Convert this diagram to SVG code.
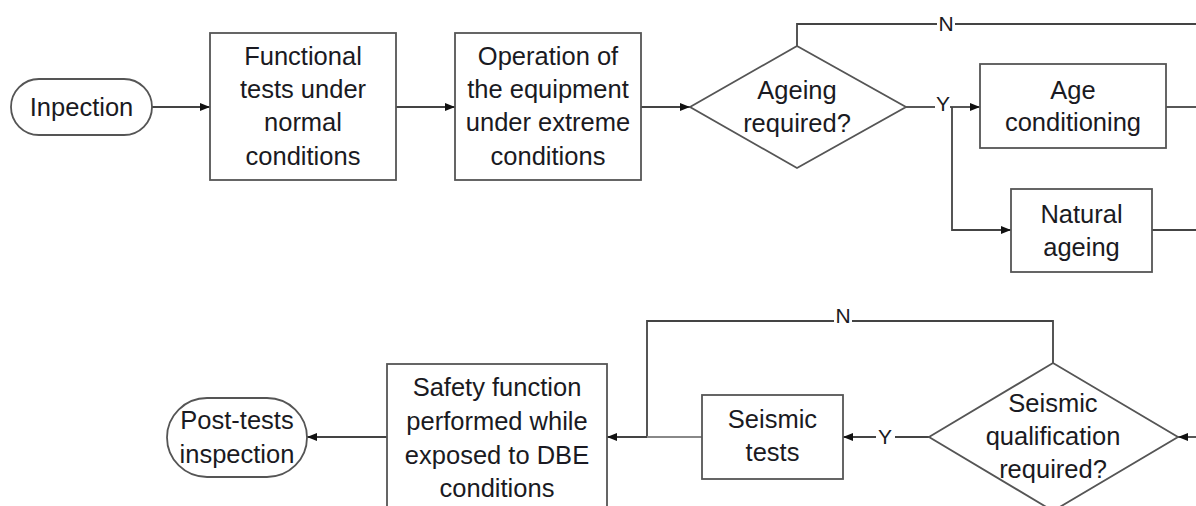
<svg xmlns="http://www.w3.org/2000/svg" width="1196" height="506" viewBox="0 0 1196 506">
<defs>
<marker id="ah" viewBox="0 0 10 10" refX="10" refY="5" markerWidth="10" markerHeight="10" markerUnits="userSpaceOnUse" orient="auto">
<path d="M0,1 L10,5 L0,9 Z" fill="#111"/>
</marker>
<style>
.shape{fill:#fff;stroke:#555;stroke-width:1.8}
.ln{fill:none;stroke:#444;stroke-width:1.8}
.lnl{fill:none;stroke:#888;stroke-width:1.8}
text{font-family:"Liberation Sans",Arial,sans-serif;font-size:25.5px;fill:#1a1a22;text-anchor:middle}
.lbl{font-size:21px}
</style>
</defs>
<rect width="1196" height="506" fill="#fff"/>
<g id="connectors">
<line class="ln" x1="152" y1="107" x2="210" y2="107" marker-end="url(#ah)"/>
<line class="ln" x1="396" y1="107" x2="455" y2="107" marker-end="url(#ah)"/>
<line class="ln" x1="641" y1="107" x2="690" y2="107" marker-end="url(#ah)"/>
<polyline class="ln" points="797,46 797,24 937,24"/>
<line class="ln" x1="955" y1="24" x2="1196" y2="24"/>
<line class="ln" x1="906" y1="107" x2="935" y2="107"/>
<polyline class="ln" points="950,107 952,107 980,107" marker-end="url(#ah)"/>
<polyline class="ln" points="952,107 952,230 1011,230" marker-end="url(#ah)"/>
<line class="ln" x1="1166" y1="107" x2="1196" y2="107"/>
<line class="ln" x1="1152" y1="230" x2="1196" y2="230"/>
<line class="ln" x1="1196" y1="437" x2="1178" y2="437" marker-end="url(#ah)"/>
<line class="ln" x1="929" y1="437" x2="895" y2="437"/>
<line class="ln" x1="876" y1="437" x2="843" y2="437" marker-end="url(#ah)"/>
<polyline class="ln" points="1053,363 1053,321 852,321"/>
<polyline class="ln" points="834,321 647,321 647,437"/>
<line class="lnl" x1="702" y1="437" x2="647" y2="437"/>
<line class="ln" x1="647" y1="437" x2="607" y2="437" marker-end="url(#ah)"/>
<line class="ln" x1="387" y1="437" x2="307" y2="437" marker-end="url(#ah)"/>
<text class="lbl" x="946" y="31">N</text>
<text class="lbl" x="943" y="111">Y</text>
<text class="lbl" x="843" y="323">N</text>
<text class="lbl" x="885" y="444">Y</text>
</g>
<g id="n-inspection">
<rect class="shape" x="11" y="79" width="141" height="56" rx="28" ry="28"/>
<text x="81.5" y="116">Inpection</text>
</g>
<g id="n-functional">
<rect class="shape" x="210" y="33" width="186" height="147"/>
<text x="303" y="65">Functional</text>
<text x="303" y="98">tests under</text>
<text x="303" y="131">normal</text>
<text x="303" y="165">conditions</text>
</g>
<g id="n-operation">
<rect class="shape" x="455" y="33" width="186" height="147"/>
<text x="548" y="65">Operation of</text>
<text x="548" y="98">the equipment</text>
<text x="548" y="131">under extreme</text>
<text x="548" y="165">conditions</text>
</g>
<g id="n-ageing">
<polygon class="shape" points="690,107 797,46 906,107 797,168"/>
<text x="797" y="99">Ageing</text>
<text x="797" y="132">required?</text>
</g>
<g id="n-age-cond">
<rect class="shape" x="980" y="64" width="186" height="84"/>
<text x="1073" y="99">Age</text>
<text x="1073" y="131">conditioning</text>
</g>
<g id="n-natural">
<rect class="shape" x="1011" y="189" width="141" height="83"/>
<text x="1081.5" y="223">Natural</text>
<text x="1081.5" y="256">ageing</text>
</g>
<g id="n-seismic-q">
<polygon class="shape" points="929,437 1053,363 1178,437 1053,511"/>
<text x="1053" y="412">Seismic</text>
<text x="1053" y="445">qualification</text>
<text x="1053" y="478">required?</text>
</g>
<g id="n-seismic-tests">
<rect class="shape" x="702" y="395" width="141" height="84"/>
<text x="772.5" y="428">Seismic</text>
<text x="772.5" y="461">tests</text>
</g>
<g id="n-safety">
<rect class="shape" x="387" y="364" width="220" height="160"/>
<text x="497" y="396">Safety function</text>
<text x="497" y="430">performed while</text>
<text x="497" y="464">exposed to DBE</text>
<text x="497" y="497">conditions</text>
</g>
<g id="n-post">
<rect class="shape" x="167" y="398" width="140" height="79" rx="40" ry="39.5"/>
<text x="237" y="429">Post-tests</text>
<text x="237" y="463">inspection</text>
</g>
</svg>
